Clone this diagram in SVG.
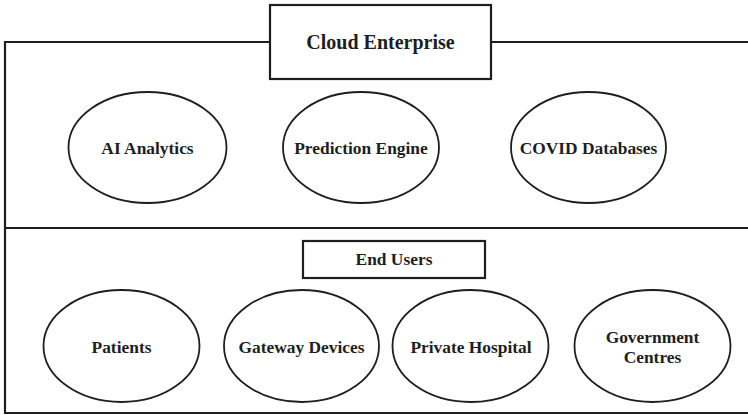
<svg xmlns="http://www.w3.org/2000/svg" width="748" height="415" viewBox="0 0 748 415">
<style>
.ln{fill:none;stroke:#1e1e1e;stroke-width:2.2}
.box{fill:#fff;stroke:#1e1e1e;stroke-width:2.2}
.el{fill:#fff;stroke:#1e1e1e;stroke-width:1.8}
text{font-family:'Liberation Serif','DejaVu Serif',serif;font-weight:700;fill:#1e1e1e;text-anchor:middle}
.t{font-size:17.4px}
.h{font-size:20px}
</style>
<rect width="748" height="415" fill="#fff"/>
<g id="frame">
<path class="ln" d="M750,42 H5 V413 H750"/>
<path class="ln" d="M5,228 H750"/>
</g>
<g id="connectors"/>
<g id="cloud-enterprise"><rect class="box" x="270" y="5" width="221" height="74"/><text class="h" x="380.5" y="49">Cloud Enterprise</text></g>
<g id="ai-analytics"><ellipse class="el" cx="147.5" cy="147.5" rx="79" ry="55.5"/><text class="t" x="147.5" y="154">AI Analytics</text></g>
<g id="prediction-engine"><ellipse class="el" cx="361" cy="147.5" rx="78" ry="55.5"/><text class="t" x="361" y="154">Prediction Engine</text></g>
<g id="covid-databases"><ellipse class="el" cx="588.5" cy="147.5" rx="77.5" ry="55.5"/><text class="t" x="588.5" y="154">COVID Databases</text></g>
<g id="end-users"><rect class="box" x="303" y="241" width="182" height="37"/><text class="t" x="394" y="265">End Users</text></g>
<g id="patients"><ellipse class="el" cx="121.5" cy="346" rx="78" ry="56"/><text class="t" x="121.5" y="353">Patients</text></g>
<g id="gateway-devices"><ellipse class="el" cx="301.5" cy="346" rx="77.5" ry="56"/><text class="t" x="301.5" y="353">Gateway Devices</text></g>
<g id="private-hospital"><ellipse class="el" cx="470.5" cy="346" rx="78" ry="56"/><text class="t" x="471" y="353">Private Hospital</text></g>
<g id="government-centres"><ellipse class="el" cx="652.5" cy="346" rx="78" ry="56"/><text class="t" x="652.5" y="343">Government</text><text class="t" x="652.5" y="363">Centres</text></g>
</svg>
